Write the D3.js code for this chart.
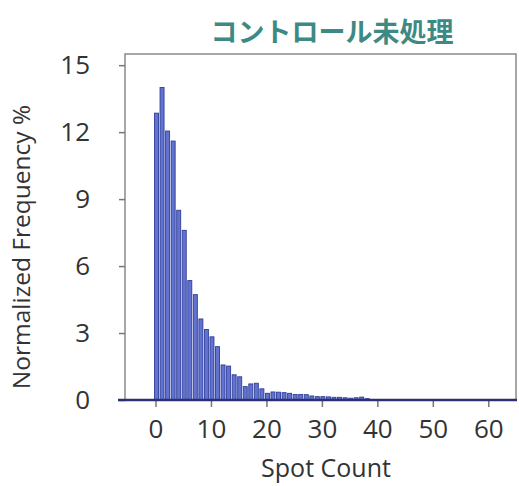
<!DOCTYPE html>
<html>
<head>
<meta charset="utf-8">
<script src="https://cdn.jsdelivr.net/npm/d3@7/dist/d3.min.js"></script>
<style>
  html, body { margin: 0; padding: 0; background: #fff; }
  svg { display: block; }
</style>
</head>
<body>
<svg id="chart" width="519" height="486"></svg>
<script>
// Histogram of spots per cell, untreated control
const spotCounts = d3.range(0, 39);
const frequencies = [
  12.85, 14.0, 12.05, 11.6, 8.5, 7.6, 5.35, 4.72, 3.63, 3.16,
  2.83, 2.39, 1.57, 1.52, 1.13, 1.04, 0.60, 0.72, 0.75, 0.50,
  0.30, 0.36, 0.35, 0.33, 0.30, 0.25, 0.25, 0.24, 0.18, 0.15,
  0.15, 0.14, 0.12, 0.12, 0.10, 0.08, 0.10, 0.13, 0.06
];
const xTicks = [0, 10, 20, 30, 40, 50, 60];
const yTicks = [0, 3, 6, 9, 12, 15];
const titleText = "コントロール未処理";
const xLabel = "Spot Count";
const yLabel = "Normalized Frequency %";

const svg = d3.select("#chart");
const font = "'Open Sans', 'Noto Sans', sans-serif";

const x = d3.scaleLinear().domain([-5.5, 65]).range([125, 516]);
const y = d3.scaleLinear().domain([0, 15.5]).range([400, 54]);

// frame
svg.append("path")
  .attr("d", `M${x(-5.5)},${y(0)} V${y(15.5)} H${x(65)} V${y(0)}`)
  .attr("fill", "none")
  .attr("stroke", "#8a8a8a")
  .attr("stroke-width", 1.5);

// bars
svg.append("g").selectAll("rect")
  .data(spotCounts)
  .join("rect")
  .attr("x", d => x(d) - 1)
  .attr("width", 4)
  .attr("y", (d, i) => y(frequencies[i]))
  .attr("height", (d, i) => y(0) - y(frequencies[i]))
  .attr("fill", "#6272cf")
  .attr("stroke", "#303e9a")
  .attr("stroke-width", 0.9);

// y axis
const yAxis = d3.axisLeft(y).tickValues(yTicks).tickSize(6).tickPadding(29)
  .tickFormat(d3.format("d"));
const gy = svg.append("g").attr("transform", `translate(${x(-5.5)},0)`).call(yAxis);
gy.select(".domain").remove();
gy.selectAll(".tick line").attr("stroke", "#777").attr("stroke-width", 1.5);
gy.selectAll(".tick text")
  .attr("font-family", font).attr("font-size", 26).attr("fill", "#333");

// x axis
const xAxis = d3.axisBottom(x).tickValues(xTicks).tickSize(6).tickPadding(13)
  .tickFormat(d3.format("d"));
const gx = svg.append("g").attr("transform", `translate(0,${y(0) + 1})`).call(xAxis);
gx.select(".domain").remove();
gx.selectAll(".tick line").attr("stroke", "#777").attr("stroke-width", 1.5);
gx.selectAll(".tick text")
  .attr("font-family", font).attr("font-size", 26).attr("fill", "#333");

// baseline
svg.append("line")
  .attr("x1", 118).attr("x2", x(65) + 1)
  .attr("y1", y(0)).attr("y2", y(0))
  .attr("stroke", "#2b3070").attr("stroke-width", 2.5);

// title
svg.append("text")
  .attr("x", 332).attr("y", 42)
  .attr("text-anchor", "middle")
  .attr("font-family", "'Noto Sans CJK JP', sans-serif")
  .attr("font-weight", "bold")
  .attr("font-size", 27)
  .attr("fill", "#3d8a85")
  .text(titleText);

// axis titles
svg.append("text")
  .attr("x", 326).attr("y", 477)
  .attr("text-anchor", "middle")
  .attr("font-family", font).attr("font-size", 25).attr("fill", "#333")
  .text(xLabel);

svg.append("text")
  .attr("transform", "translate(30,247) rotate(-90)")
  .attr("text-anchor", "middle")
  .attr("font-family", font).attr("font-size", 24.5).attr("fill", "#333")
  .text(yLabel);
</script>
</body>
</html>
